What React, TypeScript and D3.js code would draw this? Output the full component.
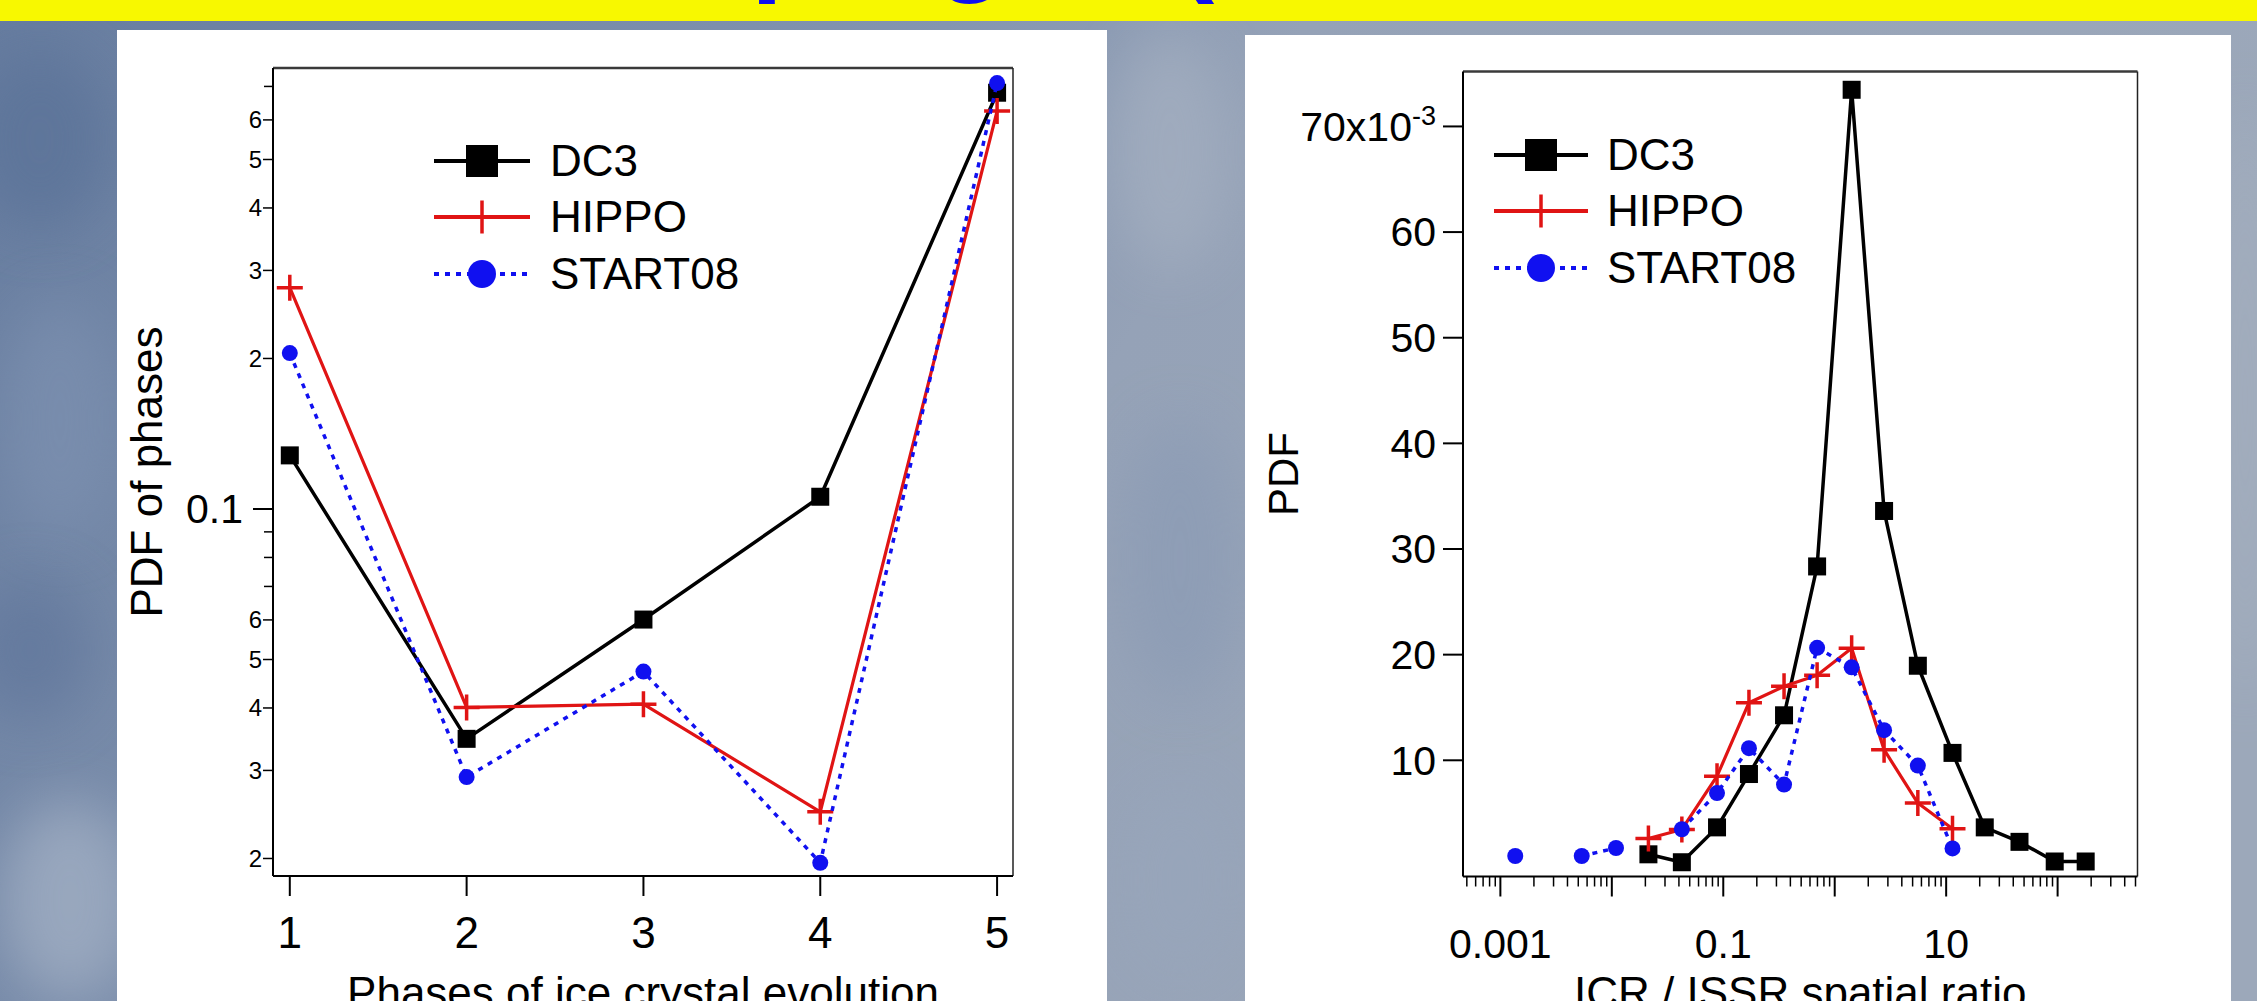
import React from 'react';
import * as d3 from 'd3';

// left chart: PDF of phases (log axis)
const phases = [1, 2, 3, 4, 5];
const phaseDC3 = [0.128, 0.0347, 0.0601, 0.1058, 0.68];
const phaseHIPPO = [0.277, 0.0401, 0.0407, 0.0248, 0.625];
const phaseSTART08 = [0.205, 0.0291, 0.0473, 0.0196, 0.711];
const phaseLabelTicks = [0.02, 0.03, 0.04, 0.05, 0.06, 0.2, 0.3, 0.4, 0.5, 0.6];
const phaseMinorTicks = [0.07, 0.08, 0.09, 0.7];

// right chart: ICR / ISSR ratio bins, PDF in units of 1e-3
const ratioBins = [0.00136, 0.00271, 0.00537, 0.0109, 0.0213, 0.0425, 0.0879, 0.170, 0.351, 0.695,
  1.419, 2.773, 5.57, 11.4, 22.2, 45.5, 94.2, 178.6];
const ratioDC3 = [null, null, null, null, 1.1, 0.35, 3.65, 8.7, 14.26, 28.35, 73.47, 33.6, 18.95, 10.7,
  3.65, 2.28, 0.42, 0.42];
const ratioHIPPO = [null, null, null, null, 2.6, 3.45, 8.5, 15.45, 17.0, 18.05, 20.6, 11.0, 5.95, 3.52,
  null, null, null, null];
const ratioSTART08 = [0.94, null, 0.94, 1.7, null, 3.47, 6.9, 11.15, 7.7, 20.65, 18.8, 12.85, 9.5, 1.66,
  null, null, null, null];
const pdfTicks = [10, 20, 30, 40, 50, 60, 70];
const ratioLabels = [0.001, 0.1, 10];

const seriesNames = ['DC3', 'HIPPO', 'START08'];

const W = 2257;
const H = 1001;
const FONT = "'Liberation Sans', Arial, sans-serif";
const BLACK = '#000000';
const RED = '#e01414';
const BLUE = '#1010f0';

class Phase_Charts extends React.Component<any> {
  myRef: any;
  constructor(props) {
    super(props);
    this.myRef = React.createRef();
    this.draw = this.draw.bind(this);
    this.draw_background = this.draw_background.bind(this);
    this.draw_frame = this.draw_frame.bind(this);
    this.draw_marker = this.draw_marker.bind(this);
    this.draw_series = this.draw_series.bind(this);
    this.draw_legend = this.draw_legend.bind(this);
    this.draw_phase_chart = this.draw_phase_chart.bind(this);
    this.draw_ratio_chart = this.draw_ratio_chart.bind(this);
  }

  componentDidMount() {
    this.draw();
  }

  draw_background(svg) {
    const defs = svg.append('defs');
    const grad = defs.append('linearGradient')
      .attr('id', 'sky')
      .attr('x1', 0).attr('y1', 0).attr('x2', 1).attr('y2', 0.25);
    grad.append('stop').attr('offset', '0').attr('stop-color', '#667c9f');
    grad.append('stop').attr('offset', '0.4').attr('stop-color', '#8495b0');
    grad.append('stop').attr('offset', '0.55').attr('stop-color', '#95a2b7');
    grad.append('stop').attr('offset', '1').attr('stop-color', '#9ca8ba');

    defs.append('filter').attr('id', 'cloud')
      .attr('x', '-50%').attr('y', '-50%').attr('width', '200%').attr('height', '200%')
      .append('feGaussianBlur').attr('stdDeviation', 28);

    svg.append('rect').attr('width', W).attr('height', H).attr('fill', 'url(#sky)');

    // a few soft patches so the margins look like the sky photo
    const blobs = [
      [40, 140, 70, 90, '#5c7399', 0.8],
      [60, 420, 60, 120, '#7f93b2', 0.6],
      [30, 650, 60, 70, '#5d739a', 0.6],
      [70, 900, 70, 100, '#a0aec3', 0.8],
      [1170, 150, 60, 120, '#a3aec0', 0.8],
      [1180, 560, 60, 140, '#8b9bb5', 0.7],
      [1180, 880, 60, 100, '#98a6bb', 0.7],
      [2245, 400, 30, 300, '#a6b0bf', 0.7],
    ];
    blobs.forEach(b => {
      svg.append('ellipse')
        .attr('cx', b[0]).attr('cy', b[1]).attr('rx', b[2]).attr('ry', b[3])
        .attr('fill', b[4]).attr('opacity', b[5]).attr('filter', 'url(#cloud)');
    });

    // yellow title band, only the descenders of the title show
    svg.append('rect').attr('width', W).attr('height', 21).attr('fill', '#f8f800');
    const title = svg.append('text')
      .attr('y', -20)
      .attr('font-family', FONT)
      .attr('font-weight', 'bold')
      .attr('font-size', 115)
      .attr('fill', BLUE);
    title.append('tspan').attr('x', 751).text('p');
    title.append('tspan').attr('x', 936).text('g');
    title.append('tspan').attr('x', 1176).text('(');

    // white panels
    svg.append('rect').attr('x', 117).attr('y', 30).attr('width', 990).attr('height', H - 30).attr('fill', '#ffffff');
    svg.append('rect').attr('x', 1245).attr('y', 35).attr('width', 986).attr('height', H - 35).attr('fill', '#ffffff');
  }

  draw_frame(g, x0, x1, y0, y1) {
    g.append('line').attr('x1', x0).attr('x2', x1).attr('y1', y0).attr('y2', y0)
      .attr('stroke', '#3a3a3a').attr('stroke-width', 2.5);
    g.append('line').attr('x1', x1).attr('x2', x1).attr('y1', y0).attr('y2', y1)
      .attr('stroke', '#222').attr('stroke-width', 1.5);
    g.append('line').attr('x1', x0).attr('x2', x0).attr('y1', y0).attr('y2', y1)
      .attr('stroke', BLACK).attr('stroke-width', 2);
    g.append('line').attr('x1', x0).attr('x2', x1).attr('y1', y1).attr('y2', y1)
      .attr('stroke', BLACK).attr('stroke-width', 2);
  }

  draw_marker(g, kind, cx, cy, size, color) {
    if (kind === 'square') {
      g.append('rect')
        .attr('x', cx - size / 2).attr('y', cy - size / 2)
        .attr('width', size).attr('height', size)
        .attr('fill', color);
    } else if (kind === 'cross') {
      g.append('path')
        .attr('d', `M${cx - size / 2},${cy}H${cx + size / 2}M${cx},${cy - size / 2}V${cy + size / 2}`)
        .attr('stroke', color).attr('stroke-width', 3.5).attr('fill', 'none');
    } else {
      g.append('circle').attr('cx', cx).attr('cy', cy).attr('r', size / 2).attr('fill', color);
    }
  }

  draw_series(g, xs, ys, x, y, style, mSize) {
    const pts = xs.map((v, i) => [v, ys[i]]);
    const line = d3.line()
      .defined(d => d[1] !== null)
      .x(d => x(d[0]))
      .y(d => y(d[1]));
    const path = g.append('path')
      .attr('d', line(pts))
      .attr('fill', 'none')
      .attr('stroke', style.color)
      .attr('stroke-width', style.width)
      .attr('stroke-linejoin', 'round');
    if (style.dash) path.attr('stroke-dasharray', style.dash);
    pts.filter(d => d[1] !== null).forEach(d => {
      this.draw_marker(g, style.marker, x(d[0]), y(d[1]), mSize, style.color);
    });
  }

  draw_legend(g, lx0, lx1, tx, rows) {
    const styles = this.styles();
    seriesNames.forEach((name, i) => {
      const st = styles[i];
      const cy = rows[i];
      const ln = g.append('line')
        .attr('x1', lx0).attr('x2', lx1).attr('y1', cy).attr('y2', cy)
        .attr('stroke', st.color).attr('stroke-width', 4);
      if (st.dash) ln.attr('stroke-dasharray', st.dash);
      const size = st.marker === 'square' ? 32 : st.marker === 'cross' ? 33 : 28;
      this.draw_marker(g, st.marker, (lx0 + lx1) / 2, cy, size, st.color);
      g.append('text')
        .attr('x', tx).attr('y', cy).attr('dy', '0.35em')
        .attr('font-family', FONT).attr('font-size', 44)
        .attr('fill', BLACK)
        .text(name);
    });
  }

  styles() {
    return [
      { color: BLACK, width: 3.5, marker: 'square', dash: null },
      { color: RED, width: 3.2, marker: 'cross', dash: null },
      { color: BLUE, width: 3.5, marker: 'circle', dash: '5 6' },
    ];
  }

  draw_phase_chart(svg) {
    const x0 = 273, x1 = 1013, y0 = 68, y1 = 876;
    const x = d3.scaleLinear().domain([0.905, 5.09]).range([x0, x1]);
    const y = d3.scaleLog().domain([0.01845, 0.762]).range([y1, y0]);
    const g = svg.append('g');

    this.draw_frame(g, x0, x1, y0, y1);

    // y ticks: 0.1 is the major one, mantissas are labelled small
    g.append('line').attr('x1', x0 - 20).attr('x2', x0).attr('y1', y(0.1)).attr('y2', y(0.1))
      .attr('stroke', BLACK).attr('stroke-width', 2);
    g.append('text').attr('x', 243).attr('y', y(0.1)).attr('dy', '0.35em')
      .attr('text-anchor', 'end').attr('font-family', FONT).attr('font-size', 41)
      .text('0.1');
    phaseLabelTicks.forEach(v => {
      g.append('line').attr('x1', x0 - 10).attr('x2', x0).attr('y1', y(v)).attr('y2', y(v))
        .attr('stroke', BLACK).attr('stroke-width', 1.5);
      const m = Math.round(v / Math.pow(10, Math.floor(Math.log10(v) + 1e-9)));
      g.append('text').attr('x', 262).attr('y', y(v)).attr('dy', '0.35em')
        .attr('text-anchor', 'end').attr('font-family', FONT).attr('font-size', 24)
        .text(String(m));
    });
    phaseMinorTicks.forEach(v => {
      g.append('line').attr('x1', x0 - 9).attr('x2', x0).attr('y1', y(v)).attr('y2', y(v))
        .attr('stroke', BLACK).attr('stroke-width', 1.5);
    });

    // x ticks
    phases.forEach(p => {
      g.append('line').attr('x1', x(p)).attr('x2', x(p)).attr('y1', y1).attr('y2', y1 + 20)
        .attr('stroke', BLACK).attr('stroke-width', 2);
      g.append('text').attr('x', x(p)).attr('y', 948)
        .attr('text-anchor', 'middle').attr('font-family', FONT).attr('font-size', 44)
        .text(String(p));
    });

    g.append('text').attr('x', (x0 + x1) / 2).attr('y', 1008)
      .attr('text-anchor', 'middle').attr('font-family', FONT).attr('font-size', 44)
      .text('Phases of ice crystal evolution');
    g.append('text').attr('transform', `translate(162,${(y0 + y1) / 2}) rotate(-90)`)
      .attr('text-anchor', 'middle').attr('font-family', FONT).attr('font-size', 44)
      .text('PDF of phases');

    const styles = this.styles();
    const data = [phaseDC3, phaseHIPPO, phaseSTART08];
    data.forEach((ys, i) => {
      const size = i === 0 ? 18 : i === 1 ? 26 : 16;
      this.draw_series(g, phases, ys, x, y, styles[i], size);
    });

    this.draw_legend(g, 434, 530, 550, [161, 217, 274]);
  }

  draw_ratio_chart(svg) {
    const x0 = 1463, x1 = 2137.5, y0 = 71.5, y1 = 876.5;
    const x = d3.scaleLog().domain([4.62e-4, 521]).range([x0, x1]);
    const y = d3.scaleLinear().domain([-1.0, 75.2]).range([y1, y0]);
    const g = svg.append('g');

    this.draw_frame(g, x0, x1, y0, y1);

    pdfTicks.forEach(v => {
      g.append('line').attr('x1', x0 - 20).attr('x2', x0).attr('y1', y(v)).attr('y2', y(v))
        .attr('stroke', BLACK).attr('stroke-width', 2);
      const t = g.append('text').attr('x', 1436).attr('y', y(v)).attr('dy', '0.35em')
        .attr('text-anchor', 'end').attr('font-family', FONT).attr('font-size', 41);
      if (v === 70) {
        t.append('tspan').text('70x10');
        t.append('tspan').attr('dy', '-0.6em').attr('font-size', 27).text('-3');
      } else {
        t.text(String(v));
      }
    });

    // log x ticks
    const [dMin, dMax] = x.domain();
    for (let e = -4; e <= 2; e++) {
      const dec = Math.pow(10, e);
      for (let k = 1; k <= 9; k++) {
        const v = k * dec;
        if (v < dMin || v > dMax) continue;
        g.append('line').attr('x1', x(v)).attr('x2', x(v))
          .attr('y1', y1).attr('y2', y1 + (k === 1 ? 20 : 10))
          .attr('stroke', BLACK).attr('stroke-width', k === 1 ? 2 : 1.5);
      }
    }
    ratioLabels.forEach(v => {
      g.append('text').attr('x', x(v)).attr('y', 958)
        .attr('text-anchor', 'middle').attr('font-family', FONT).attr('font-size', 41)
        .text(String(v));
    });

    g.append('text').attr('x', (x0 + x1) / 2).attr('y', 1008)
      .attr('text-anchor', 'middle').attr('font-family', FONT).attr('font-size', 44)
      .text('ICR / ISSR spatial ratio');
    g.append('text').attr('transform', `translate(1298,${(y0 + y1) / 2}) rotate(-90)`)
      .attr('text-anchor', 'middle').attr('font-family', FONT).attr('font-size', 42)
      .text('PDF');

    const styles = this.styles();
    const data = [ratioDC3, ratioHIPPO, ratioSTART08];
    data.forEach((ys, i) => {
      const size = i === 0 ? 18 : i === 1 ? 26 : 16;
      this.draw_series(g, ratioBins, ys, x, y, styles[i], size);
    });

    this.draw_legend(g, 1494, 1588, 1607, [155, 211, 268]);
  }

  draw() {
    const root = d3.select(this.myRef.current);
    root.selectAll('*').remove();
    const svg = root.append('svg')
      .attr('width', W)
      .attr('height', H)
      .style('display', 'block');
    this.draw_background(svg);
    this.draw_phase_chart(svg);
    this.draw_ratio_chart(svg);
  }

  render() {
    return (
      <div ref={this.myRef} style={{ position: 'absolute', left: 0, top: 0, width: W, height: H, overflow: 'hidden' }}></div>
    );
  }
}

export default function App() {
  return <Phase_Charts />;
}
